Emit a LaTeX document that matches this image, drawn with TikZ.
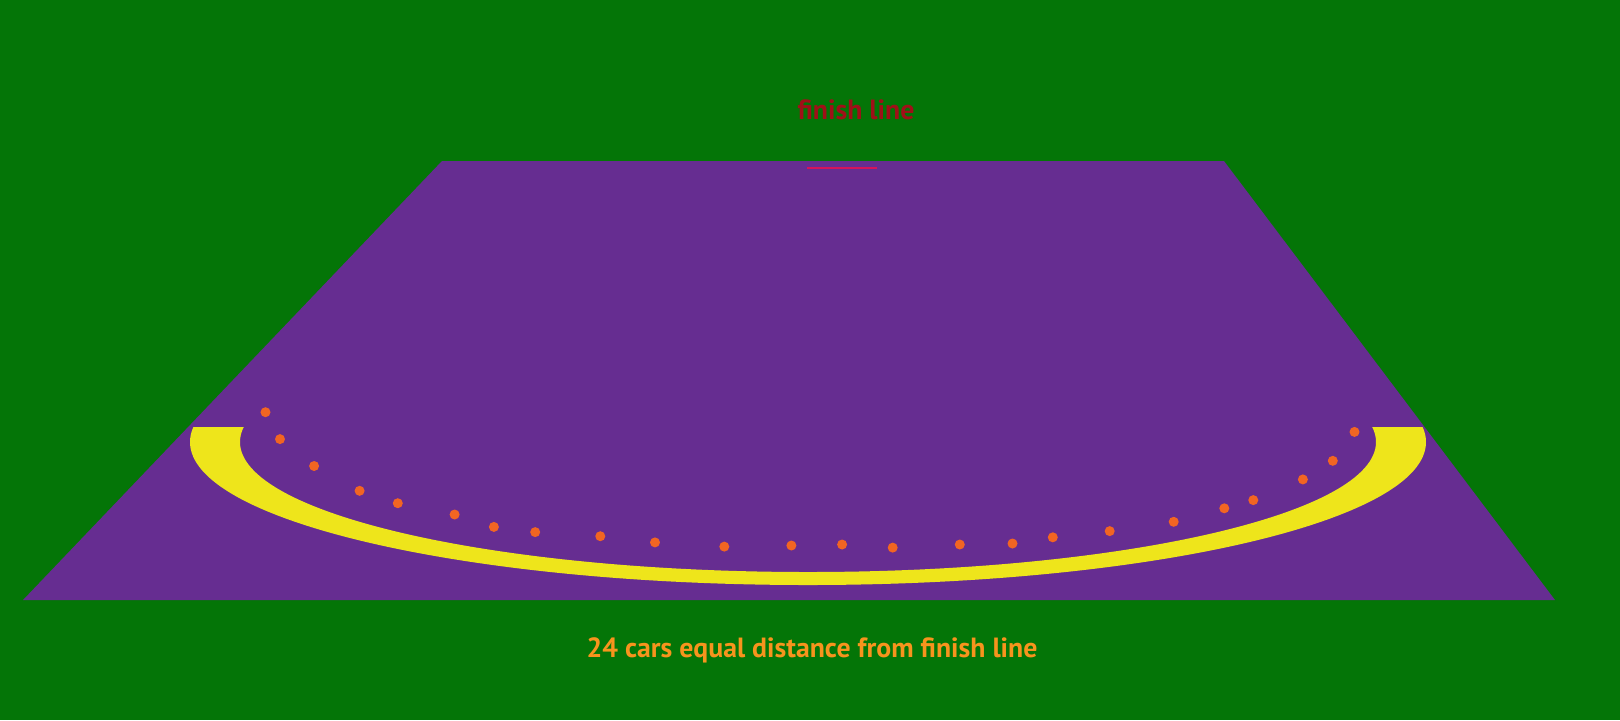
\documentclass[tikz,border=0pt]{standalone}
\usepackage{fontspec}
\setmainfont{PT Sans}
\definecolor{bggreen}{RGB}{4,117,7}
\definecolor{field}{RGB}{102,45,145}
\definecolor{ring}{RGB}{238,229,27}
\definecolor{car}{RGB}{242,101,34}
\definecolor{finishred}{RGB}{160,16,24}
\definecolor{finishline}{RGB}{212,20,90}
\definecolor{caption}{RGB}{247,148,29}
\tikzset{
  carpt/.style={circle,fill=car,inner sep=0pt,minimum size=0.1cm},
  lbl/.style={font=\bfseries\fontsize{7.9pt}{8.5pt}\selectfont,inner sep=0pt,anchor=base}
}
\begin{document}
\begin{tikzpicture}[x=0.01cm,y=-0.01cm]
\useasboundingbox (0,0) rectangle (1620,720);
\fill[bggreen] (0,0) rectangle (1620,720);
\fill[field] (442,161) -- (1224,161) -- (1555,600) -- (23,600) -- cycle;
\begin{scope}
  \clip (0,427) rectangle (1620,720);
  \fill[ring,even odd rule] (808,442) ellipse [x radius=618,y radius=143]
                           (808,442) ellipse [x radius=568,y radius=130];
\end{scope}
\coordinate (fl1) at (807,168);
\coordinate (fl2) at (877,168);
\draw[finishline,line width=0.02cm] (fl1) -- (fl2);
\node[lbl,text=finishred] (finish) at (856,119) {finish line};
\node[lbl,text=caption] (cap) at (812,657) {24 cars equal distance from finish line};
\foreach \x/\y [count=\i] in {265.5/412.2,280.0/439.1,314.1/466.0,359.6/490.8,397.8/503.2,454.6/514.5,493.9/526.9,535.2/532.1,600.3/536.2,655.0/542.4,724.3/546.6,791.4/545.5,842.1/544.5,892.7/547.6,959.8/544.5,1012.5/543.5,1052.8/537.3,1109.7/531.1,1173.7/521.8,1224.3/508.3,1253.3/500.1,1302.9/479.4,1332.8/460.8,1354.5/431.9}
  \node[carpt] (c\i) at (\x,\y) {};
\end{tikzpicture}
\end{document}
